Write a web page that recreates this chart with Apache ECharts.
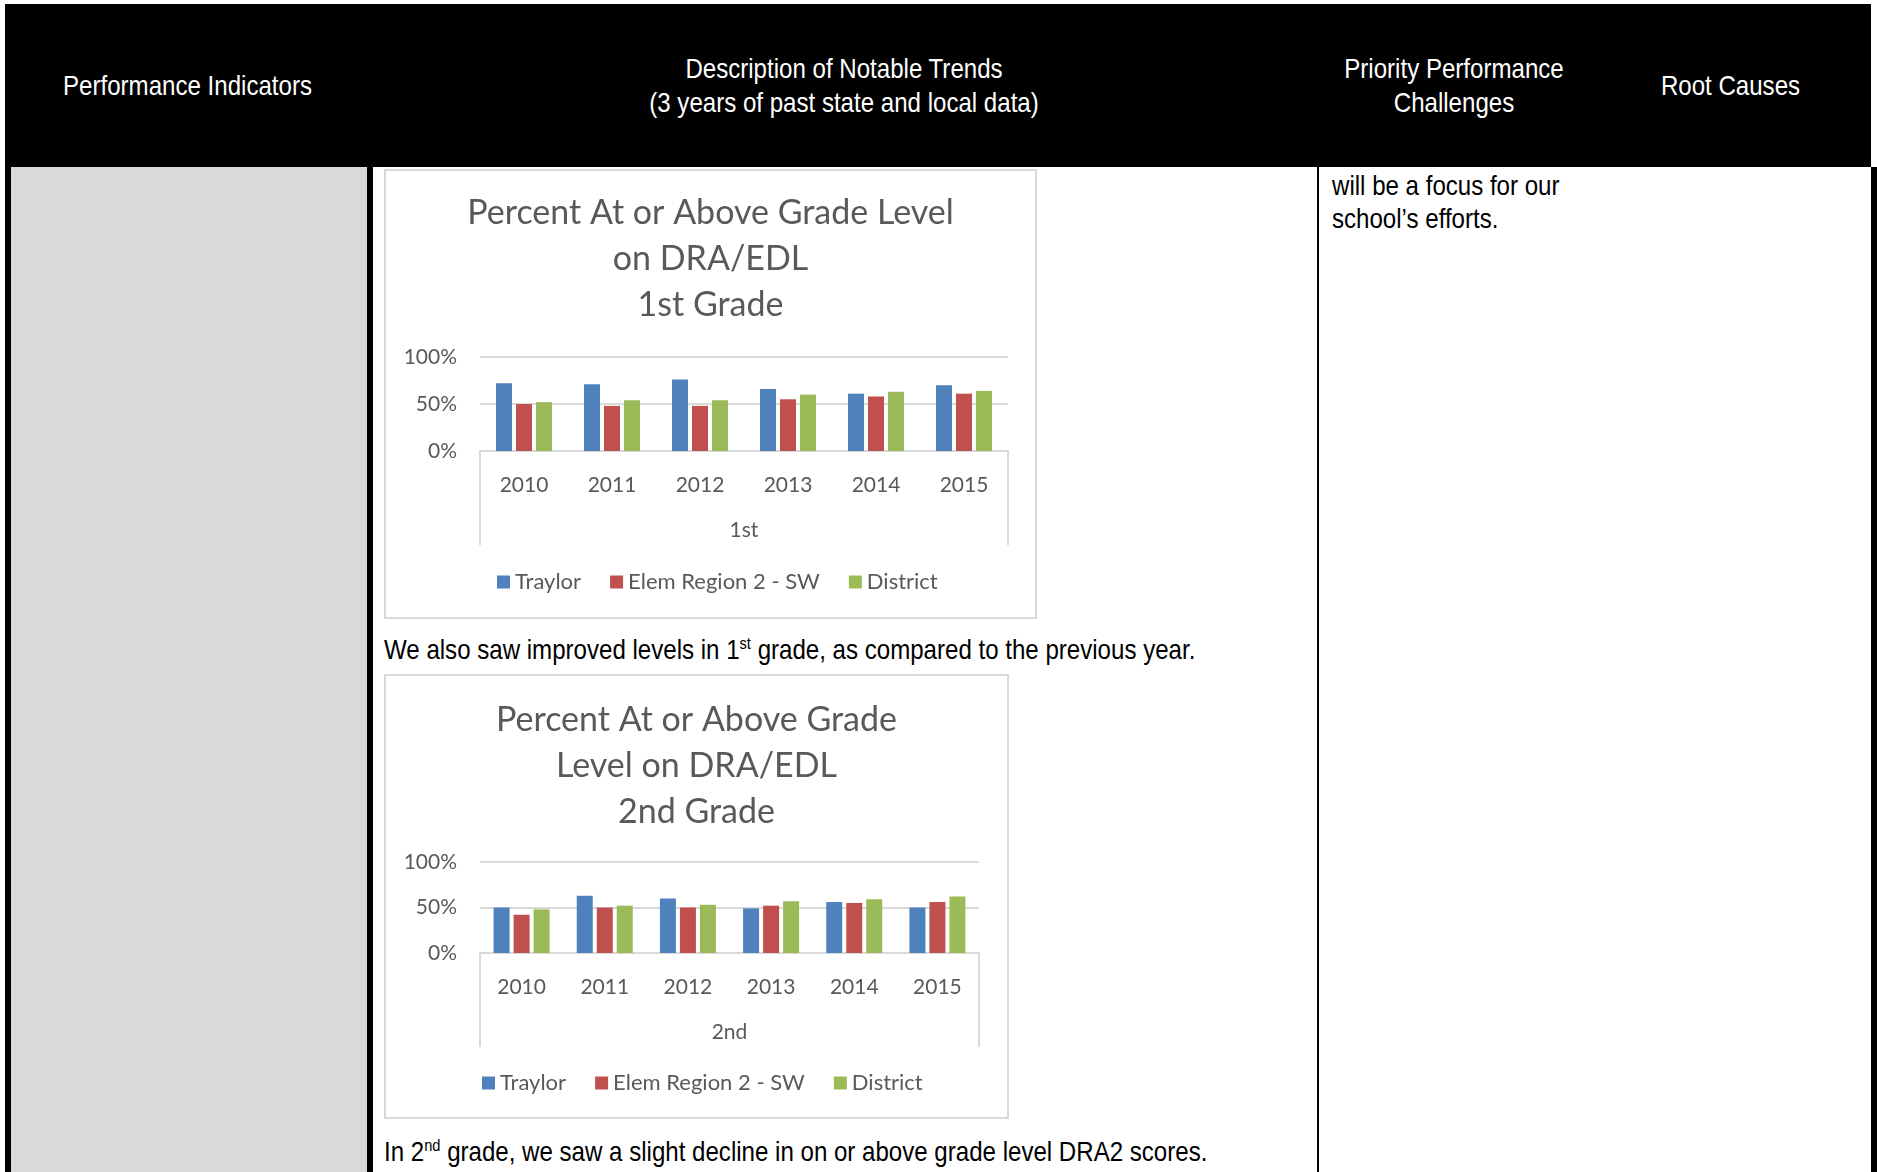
<!DOCTYPE html>
<html>
<head>
<meta charset="utf-8">
<title>DRA/EDL</title>
<script src="https://cdn.jsdelivr.net/npm/echarts/dist/echarts.min.js"></script>
<style>
  body { margin: 0; width: 1877px; height: 1172px; background: #fff; position: relative; overflow: hidden;
         font-family: "Liberation Sans Narrow", "Arial Narrow", "Liberation Sans", sans-serif; }
  .abs { position: absolute; }
  .head { left: 5px; top: 4px; width: 1866px; height: 163px; background: #000; }
  /* no narrow font installed, so squeeze the regular one */
  .htxt { color: #fff; font-size: 28px; line-height: 34px; text-align: center; transform: scaleX(0.86); transform-origin: center; }
  .txt { color: #000; font-size: 28px; line-height: 33px; white-space: nowrap; transform: scaleX(0.86); transform-origin: left; }
  .txt sup { font-size: 17px; vertical-align: 10px; line-height: 0; }
  .box { border: 2px solid #d9d9d9; box-sizing: border-box; background: #fff; }
  .box > div { width: 100%; height: 100%; }
</style>
</head>
<body>
<div class="abs head"></div>
<div class="abs htxt" style="left:5px;width:365px;top:69px;">Performance Indicators</div>
<div class="abs htxt" style="left:370px;width:948px;top:52px;">Description of Notable Trends<br>(3 years of past state and local data)</div>
<div class="abs htxt" style="left:1318px;width:272px;top:52px;">Priority Performance<br>Challenges</div>
<div class="abs htxt" style="left:1590px;width:281px;top:69px;">Root Causes</div>

<!-- table body -->
<div class="abs" style="left:5px;top:167px;width:6px;height:1005px;background:#000;"></div>
<div class="abs" style="left:11px;top:167px;width:356px;height:1005px;background:#d9d9d9;"></div>
<div class="abs" style="left:367px;top:167px;width:6px;height:1005px;background:#000;"></div>
<div class="abs" style="left:1317px;top:167px;width:2px;height:1005px;background:#000;"></div>
<div class="abs" style="left:1871px;top:167px;width:6px;height:1005px;background:#000;"></div>

<div class="abs txt" style="left:1332px;top:169px;">will be a focus for our<br>school’s efforts.</div>

<div class="abs box" style="left:384px;top:169px;width:653px;height:450px;"><div id="chart1"></div></div>
<div class="abs txt" style="left:384px;top:633px;">We also saw improved levels in 1<sup>st</sup> grade, as compared to the previous year.</div>
<div class="abs box" style="left:384px;top:674px;width:625px;height:445px;"><div id="chart2"></div></div>
<div class="abs txt" style="left:384px;top:1135px;">In 2<sup>nd</sup> grade, we saw a slight decline in on or above grade level DRA2 scores.</div>

<script>
var years = ["2010", "2011", "2012", "2013", "2014", "2015"];
var seriesNames = ["Traylor", "Elem Region 2 - SW", "District"];
var seriesColors = ["#4f81bd", "#c0504d", "#9bbb59"];
var yMin = 0, yMax = 1, yStep = 0.5;

// 1st grade
var grade1Traylor = [0.72, 0.71, 0.76, 0.66, 0.61, 0.70];
var grade1Region = [0.50, 0.48, 0.48, 0.55, 0.58, 0.61];
var grade1District = [0.52, 0.54, 0.54, 0.60, 0.63, 0.64];

// 2nd grade
var grade2Traylor = [0.50, 0.63, 0.60, 0.49, 0.56, 0.50];
var grade2Region = [0.42, 0.50, 0.50, 0.52, 0.55, 0.56];
var grade2District = [0.48, 0.52, 0.53, 0.57, 0.59, 0.62];

var textColor = "#595959";
var lineColor = "#d9d9d9";
var font = "Lato, 'Open Sans', sans-serif";

function initChart(id, cfg) {
  var chart = echarts.init(document.getElementById(id));
  var values = [cfg.traylor, cfg.region, cfg.district];
  chart.setOption({
    animation: false,
    title: {
      text: cfg.title,
      left: "center",
      top: cfg.titleTop,
      textStyle: { color: textColor, fontFamily: font, fontSize: 34, fontWeight: "normal", lineHeight: 46 },
    },
    legend: {
      data: seriesNames,
      left: cfg.legendLeft,
      top: cfg.legendTop,
      itemWidth: 13,
      itemHeight: 13,
      itemGap: 29,
      icon: "rect",
      textStyle: { color: textColor, fontFamily: font, fontSize: 22 },
    },
    grid: { left: 94, right: cfg.gridRight, top: 186, height: cfg.gridHeight },
    xAxis: [
      {
        type: "category",
        data: years,
        position: "bottom",
        axisLine: { show: true, lineStyle: { color: lineColor, width: 2 } },
        axisTick: { show: false },
        axisLabel: { color: textColor, fontFamily: font, fontSize: 21, margin: 24 },
      },
      {
        // grade group label under the years
        type: "category",
        data: [cfg.group],
        position: "bottom",
        boundaryGap: true,
        axisLine: { show: false },
        axisTick: { show: true, length: 94, lineStyle: { color: lineColor, width: 2 } },
        axisLabel: { color: textColor, fontFamily: font, fontSize: 21, margin: 69 },
      },
    ],
    yAxis: {
      type: "value",
      min: yMin,
      max: yMax,
      interval: yStep,
      axisLine: { show: false },
      axisTick: { show: false },
      splitLine: { lineStyle: { color: lineColor, width: 2 } },
      axisLabel: {
        color: textColor, fontFamily: font, fontSize: 21, margin: 23,
        formatter: function (v) { return Math.round(v * 100) + "%"; },
      },
    },
    series: seriesNames.map(function (name, i) {
      return {
        name: name,
        type: "bar",
        xAxisIndex: 0,
        data: values[i],
        barWidth: 16,
        barGap: "25%",
        itemStyle: { color: seriesColors[i] },
      };
    }),
  });
}

initChart("chart1", {
  title: "Percent At or Above Grade Level\non DRA/EDL\n1st Grade",
  group: "1st",
  traylor: grade1Traylor, region: grade1Region, district: grade1District,
  titleTop: 14, gridRight: 27, gridHeight: 94, legendLeft: 106, legendTop: 395,
});
initChart("chart2", {
  title: "Percent At or Above Grade\nLevel on DRA/EDL\n2nd Grade",
  group: "2nd",
  traylor: grade2Traylor, region: grade2Region, district: grade2District,
  titleTop: 16, gridRight: 28, gridHeight: 91, legendLeft: 91, legendTop: 391,
});
</script>
</body>
</html>
